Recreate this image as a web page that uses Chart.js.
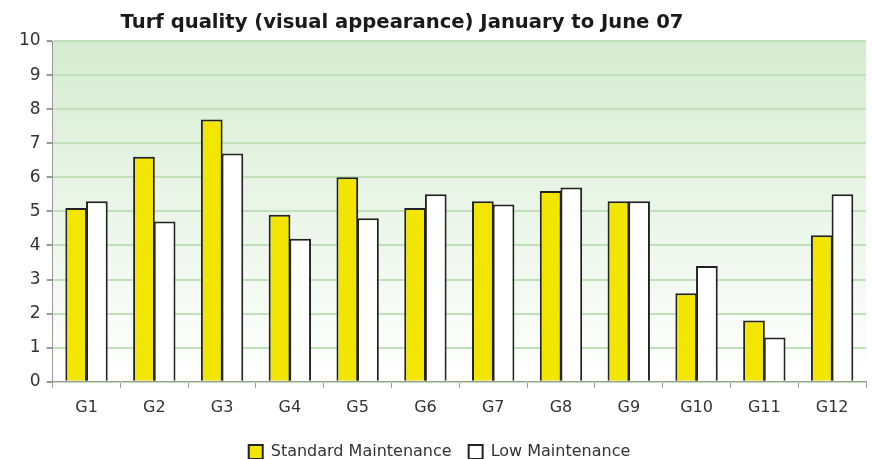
<!DOCTYPE html>
<html>
<head>
<meta charset="utf-8">
<script src="https://cdn.jsdelivr.net/npm/chart.js@4.4.0/dist/chart.umd.min.js"></script>
<style>
  html, body { margin: 0; padding: 0; background: #fff; overflow: hidden; }
  #wrap { position: relative; width: 872px; height: 459px; }
  #title {
    position: absolute; left: 0; top: 10px; width: 804px; text-align: center;
    font-family: "DejaVu Sans", sans-serif; font-size: 19.6px; font-weight: bold; color: #1a1a1a;
  }
</style>
</head>
<body>
<div id="wrap">
  <div id="title">Turf quality (visual appearance) January to June 07</div>
  <canvas id="chart" width="872" height="459"></canvas>
</div>
<script>
document.addEventListener('DOMContentLoaded', () => {
    const categories = ['G1', 'G2', 'G3', 'G4', 'G5', 'G6', 'G7', 'G8', 'G9', 'G10', 'G11', 'G12'];
    const standardMaintenance = [5.1, 6.6, 7.7, 4.9, 6.0, 5.1, 5.3, 5.6, 5.3, 2.6, 1.8, 4.3];
    const lowMaintenance = [5.3, 4.7, 6.7, 4.2, 4.8, 5.5, 5.2, 5.7, 5.3, 3.4, 1.3, 5.5];
    const yTicks = [0, 1, 2, 3, 4, 5, 6, 7, 8, 9, 10];

    const font = { family: 'DejaVu Sans', size: 16 };

    // green gradient behind the plot area
    const plotBackground = {
        id: 'plotBackground',
        beforeDraw(chart) {
            const { ctx, chartArea: a } = chart;
            const g = ctx.createLinearGradient(0, a.top, 0, a.bottom);
            g.addColorStop(0, '#d6ecd2');
            g.addColorStop(1, '#ffffff');
            ctx.save();
            ctx.fillStyle = g;
            ctx.fillRect(a.left, a.top, a.right - a.left, a.bottom - a.top);
            ctx.restore();
        }
    };

    new Chart(document.getElementById('chart').getContext('2d'), {
        type: 'bar',
        data: {
            labels: categories,
            datasets: [{
                label: 'Standard Maintenance',
                data: standardMaintenance,
                backgroundColor: '#f2e600',
                borderColor: '#222',
                borderWidth: 2,
                borderSkipped: 'bottom'
            }, {
                label: 'Low Maintenance',
                data: lowMaintenance,
                backgroundColor: '#ffffff',
                borderColor: '#222',
                borderWidth: 2,
                borderSkipped: 'bottom'
            }]
        },
        options: {
            responsive: false,
            animation: false,
            datasets: { bar: { categoryPercentage: 0.61, barPercentage: 1.05 } },
            layout: { padding: { top: 41, right: 6, left: 13, bottom: -11 } },
            plugins: {
                legend: {
                    position: 'bottom',
                    labels: {
                        font: font,
                        color: '#333',
                        boxWidth: 14,
                        boxHeight: 14,
                        padding: 17
                    }
                },
                tooltip: { enabled: false }
            },
            scales: {
                x: {
                    grid: {
                        offset: true,
                        drawOnChartArea: false,
                        tickLength: 6,
                        tickColor: '#999'
                    },
                    border: { color: '#999', width: 1 },
                    ticks: { font: font, color: '#333', padding: 10 }
                },
                y: {
                    min: 0,
                    max: 10,
                    afterBuildTicks(axis) {
                        axis.ticks = yTicks.map(v => ({ value: v }));
                    },
                    grid: {
                        color: '#bfe1b8',
                        lineWidth: 2,
                        tickLength: 6,
                        tickColor: '#999'
                    },
                    border: { color: '#999', width: 1 },
                    ticks: { font: { family: 'DejaVu Sans', size: 17 }, color: '#333', padding: 6 }
                }
            }
        },
        plugins: [plotBackground]
    });
});
</script>
</body>
</html>
